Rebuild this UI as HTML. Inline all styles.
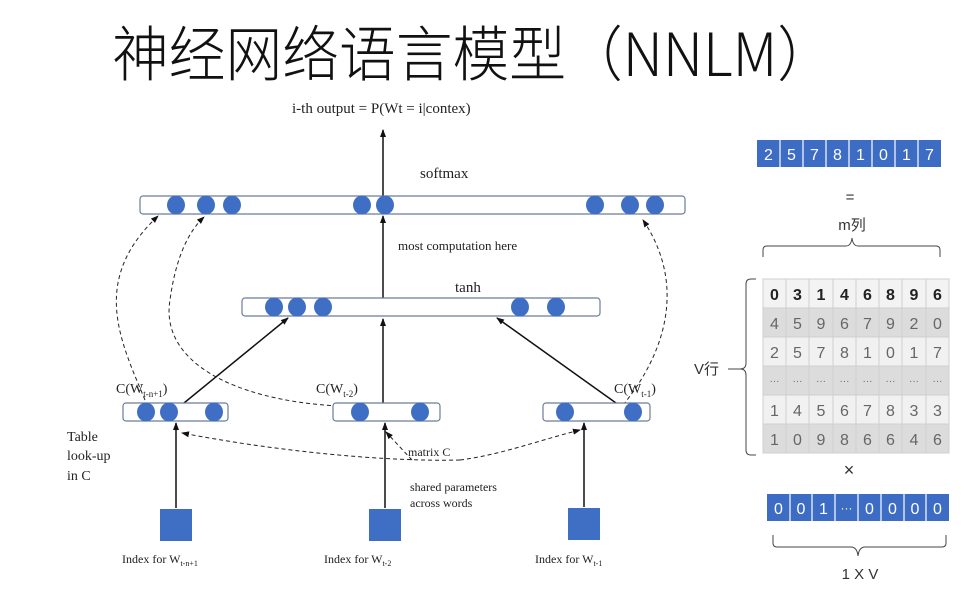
<!DOCTYPE html>
<html><head><meta charset="utf-8"><style>
html,body{margin:0;padding:0;background:#fff;}
svg{display:block;}
.s{font-family:"Liberation Serif","Noto Serif CJK SC",serif;fill:#222;}
.a{font-family:"Liberation Sans","Noto Sans CJK SC",sans-serif;}
</style></head><body>
<svg width="977" height="596" viewBox="0 0 977 596" xmlns="http://www.w3.org/2000/svg">
<defs>
<marker id="ar" markerWidth="8" markerHeight="8" refX="7" refY="4" orient="auto" markerUnits="userSpaceOnUse"><path d="M0,1 L8,4 L0,7 Z" fill="#111"/></marker>
</defs>
<text x="112" y="76" font-size="60" textLength="722" lengthAdjust="spacingAndGlyphs" style="font-family:'Noto Sans CJK SC','WenQuanYi Zen Hei',sans-serif;font-weight:300" fill="#111">神经网络语言模型（NNLM）</text>

<text class="s" x="292" y="113" font-size="15">i-th output = P(Wt = i|contex)</text>
<g stroke="#111" stroke-width="1.5" fill="none">
<line x1="383" y1="196" x2="383" y2="130" marker-end="url(#ar)"/>
<line x1="383" y1="298" x2="383" y2="216" marker-end="url(#ar)"/>
<line x1="383" y1="403" x2="383" y2="319" marker-end="url(#ar)"/>
<line x1="184" y1="403" x2="288" y2="318" marker-end="url(#ar)"/>
<line x1="616" y1="403" x2="497" y2="318" marker-end="url(#ar)"/>
<line x1="176" y1="508" x2="176" y2="423" marker-end="url(#ar)"/>
<line x1="385" y1="508" x2="385" y2="423" marker-end="url(#ar)"/>
<line x1="584" y1="507" x2="584" y2="423" marker-end="url(#ar)"/>
</g>
<g stroke="#222" stroke-width="1" fill="none" stroke-dasharray="4,3">
<path d="M145,400 C120,340 90,280 158,216" marker-end="url(#ar)"/>
<path d="M338,406 C230,400 160,360 170,300 C176,255 190,230 204,217" marker-end="url(#ar)"/>
<path d="M623,405 C660,360 690,290 643,220" marker-end="url(#ar)"/>
<path d="M460,460 C380,462 270,450 182,433" marker-end="url(#ar)"/>
<path d="M460,460 C500,455 540,440 580,430" marker-end="url(#ar)"/>
<path d="M412,460 L386,432" marker-end="url(#ar)"/>
</g>
<text class="s" x="420" y="178" font-size="15">softmax</text>
<text class="s" x="398" y="250" font-size="13">most computation here</text>
<text class="s" x="455" y="292" font-size="15">tanh</text>

<g fill="#fff" stroke="#6b7d9a" stroke-width="1.2">
<rect x="140" y="196" width="545" height="18" rx="3"/>
<rect x="242" y="298" width="358" height="18" rx="3"/>
<rect x="123" y="403" width="105" height="18" rx="3"/>
<rect x="333" y="403" width="107" height="18" rx="3"/>
<rect x="543" y="403" width="107" height="18" rx="3"/>
</g>
<g fill="#3f6fc4">
<ellipse cx="176" cy="205" rx="9" ry="9.5"/><ellipse cx="206" cy="205" rx="9" ry="9.5"/><ellipse cx="232" cy="205" rx="9" ry="9.5"/>
<ellipse cx="362" cy="205" rx="9" ry="9.5"/><ellipse cx="385" cy="205" rx="9" ry="9.5"/>
<ellipse cx="595" cy="205" rx="9" ry="9.5"/><ellipse cx="630" cy="205" rx="9" ry="9.5"/><ellipse cx="655" cy="205" rx="9" ry="9.5"/>
<ellipse cx="274" cy="307" rx="9" ry="9.5"/><ellipse cx="297" cy="307" rx="9" ry="9.5"/><ellipse cx="323" cy="307" rx="9" ry="9.5"/>
<ellipse cx="520" cy="307" rx="9" ry="9.5"/><ellipse cx="556" cy="307" rx="9" ry="9.5"/>
<ellipse cx="146" cy="412" rx="9" ry="9.5"/><ellipse cx="169" cy="412" rx="9" ry="9.5"/><ellipse cx="214" cy="412" rx="9" ry="9.5"/>
<ellipse cx="360" cy="412" rx="9" ry="9.5"/><ellipse cx="420" cy="412" rx="9" ry="9.5"/>
<ellipse cx="565" cy="412" rx="9" ry="9.5"/><ellipse cx="633" cy="412" rx="9" ry="9.5"/>
<rect x="160" y="509" width="32" height="32"/>
<rect x="369" y="509" width="32" height="32"/>
<rect x="568" y="508" width="32" height="32"/>
</g>
<g class="s" font-size="14">
<text x="116" y="393">C(W<tspan font-size="9" dy="4">t-n+1</tspan><tspan dy="-4">)</tspan></text>
<text x="316" y="393">C(W<tspan font-size="9" dy="4">t-2</tspan><tspan dy="-4">)</tspan></text>
<text x="614" y="393">C(W<tspan font-size="9" dy="4">t-1</tspan><tspan dy="-4">)</tspan></text>
<text x="67" y="441">Table</text><text x="67" y="460">look-up</text><text x="67" y="480">in C</text>
</g>
<g class="s" font-size="12">
<text x="408" y="456">matrix C</text>
<text x="410" y="491">shared parameters</text>
<text x="410" y="507">across words</text>
<text x="122" y="563">Index for W<tspan font-size="8" dy="3">t-n+1</tspan></text>
<text x="324" y="563">Index for W<tspan font-size="8" dy="3">t-2</tspan></text>
<text x="535" y="563">Index for W<tspan font-size="8" dy="3">t-1</tspan></text>
</g>

<g class="a">
<rect x="757" y="140" width="184" height="27" fill="#3d6cc4"/>
<g stroke="#fff" stroke-width="1.2"><line x1="780" y1="140" x2="780" y2="167"/><line x1="803" y1="140" x2="803" y2="167"/><line x1="826" y1="140" x2="826" y2="167"/><line x1="849" y1="140" x2="849" y2="167"/><line x1="872" y1="140" x2="872" y2="167"/><line x1="895" y1="140" x2="895" y2="167"/><line x1="918" y1="140" x2="918" y2="167"/></g>
<g fill="#fff" font-size="16" text-anchor="middle"><text x="768.5" y="160">2</text><text x="791.5" y="160">5</text><text x="814.5" y="160">7</text><text x="837.5" y="160">8</text><text x="860.5" y="160">1</text><text x="883.5" y="160">0</text><text x="906.5" y="160">1</text><text x="929.5" y="160">7</text></g>
<text x="850" y="202" font-size="15" text-anchor="middle" fill="#333">=</text>
<text x="852" y="230" font-size="15" text-anchor="middle" fill="#333">m列</text>
<path d="M763,257 V250 Q763,246 767,246 H846 Q851,246 852,238 Q853,246 858,246 H936 Q940,246 940,250 V257" fill="none" stroke="#444" stroke-width="1"/>
<path d="M756,279 H751 Q746,279 746,284 V363 Q746,369 740,369 Q746,369 746,375 V450 Q746,455 751,455 H756" fill="none" stroke="#444" stroke-width="1"/>
<line x1="728" y1="369" x2="740" y2="369" stroke="#444" stroke-width="1"/>
<text x="694" y="374" font-size="15" fill="#333">V行</text>
<g stroke="#cfcfcf" stroke-width="1">
<rect x="763" y="279" width="186" height="29" fill="#f3f3f3"/>
<rect x="763" y="308" width="186" height="29" fill="#dcdcdc"/>
<rect x="763" y="337" width="186" height="29" fill="#f1f1f1"/>
<rect x="763" y="366" width="186" height="29" fill="#dcdcdc"/>
<rect x="763" y="395" width="186" height="29" fill="#f1f1f1"/>
<rect x="763" y="424" width="186" height="29" fill="#dcdcdc"/>
<line x1="786" y1="279" x2="786" y2="453"/><line x1="809" y1="279" x2="809" y2="453"/><line x1="833" y1="279" x2="833" y2="453"/><line x1="856" y1="279" x2="856" y2="453"/><line x1="879" y1="279" x2="879" y2="453"/><line x1="902" y1="279" x2="902" y2="453"/><line x1="926" y1="279" x2="926" y2="453"/>
</g>
<g font-size="16" text-anchor="middle" fill="#666">
<g font-weight="bold" fill="#222"><text x="774.5" y="300">0</text><text x="797.5" y="300">3</text><text x="821" y="300">1</text><text x="844.5" y="300">4</text><text x="867.5" y="300">6</text><text x="890.5" y="300">8</text><text x="914" y="300">9</text><text x="937.5" y="300">6</text></g>
<text x="774.5" y="329">4</text><text x="797.5" y="329">5</text><text x="821" y="329">9</text><text x="844.5" y="329">6</text><text x="867.5" y="329">7</text><text x="890.5" y="329">9</text><text x="914" y="329">2</text><text x="937.5" y="329">0</text>
<text x="774.5" y="358">2</text><text x="797.5" y="358">5</text><text x="821" y="358">7</text><text x="844.5" y="358">8</text><text x="867.5" y="358">1</text><text x="890.5" y="358">0</text><text x="914" y="358">1</text><text x="937.5" y="358">7</text>
<g font-size="10"><text x="774.5" y="384">···</text><text x="797.5" y="384">···</text><text x="821" y="384">···</text><text x="844.5" y="384">···</text><text x="867.5" y="384">···</text><text x="890.5" y="384">···</text><text x="914" y="384">···</text><text x="937.5" y="384">···</text></g>
<text x="774.5" y="416">1</text><text x="797.5" y="416">4</text><text x="821" y="416">5</text><text x="844.5" y="416">6</text><text x="867.5" y="416">7</text><text x="890.5" y="416">8</text><text x="914" y="416">3</text><text x="937.5" y="416">3</text>
<text x="774.5" y="445">1</text><text x="797.5" y="445">0</text><text x="821" y="445">9</text><text x="844.5" y="445">8</text><text x="867.5" y="445">6</text><text x="890.5" y="445">6</text><text x="914" y="445">4</text><text x="937.5" y="445">6</text>
</g>
<text x="849" y="476" font-size="18" text-anchor="middle" fill="#333">×</text>
<rect x="767" y="494" width="182" height="27" fill="#3d6cc4"/>
<g stroke="#fff" stroke-width="1.2"><line x1="790" y1="494" x2="790" y2="521"/><line x1="812" y1="494" x2="812" y2="521"/><line x1="835" y1="494" x2="835" y2="521"/><line x1="858" y1="494" x2="858" y2="521"/><line x1="881" y1="494" x2="881" y2="521"/><line x1="904" y1="494" x2="904" y2="521"/><line x1="926" y1="494" x2="926" y2="521"/></g>
<g fill="#fff" font-size="16" text-anchor="middle"><text x="778.5" y="514">0</text><text x="801" y="514">0</text><text x="823.5" y="514">1</text><text x="846.5" y="512" font-size="12">···</text><text x="869.5" y="514">0</text><text x="892.5" y="514">0</text><text x="915" y="514">0</text><text x="937.5" y="514">0</text></g>
<path d="M773,535 V543 Q773,547 777,547 H851 Q857,547 858,556 Q859,547 865,547 H942 Q946,547 946,543 V535" fill="none" stroke="#444" stroke-width="1"/>
<text x="860" y="579" font-size="15" text-anchor="middle" fill="#333">1 X V</text>
</g>
</svg>
</body></html>
